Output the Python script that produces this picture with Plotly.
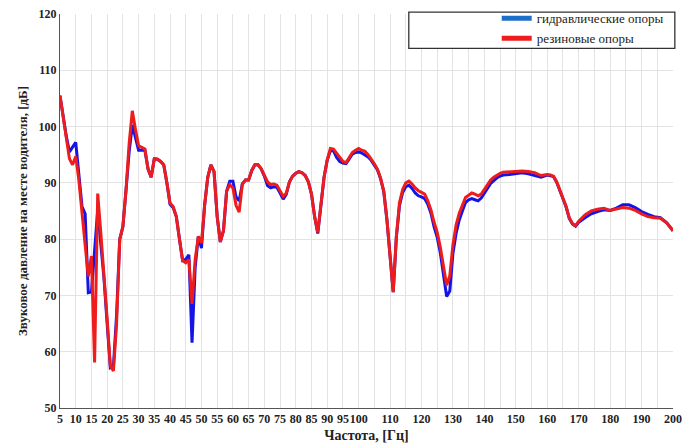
import plotly.graph_objects as go

freq = [5, 6, 7, 8, 9, 10, 11, 12, 13, 14, 15, 16, 17, 18, 19, 20, 21, 22, 23, 24,
        25, 26, 27, 28, 29, 30, 31, 32, 33, 34, 35, 36, 37, 38, 39, 40, 41, 42, 43, 44,
        45, 46, 47, 48, 49, 50, 51, 52, 53, 54, 55, 56, 57, 58, 59, 60, 61, 62, 63, 64,
        65, 66, 67, 68, 69, 70, 71, 72, 73, 74, 75, 76, 77, 78, 79, 80, 81, 82, 83, 84,
        85, 86, 87, 88, 89, 90, 91, 92, 93, 94, 95, 96, 97, 98, 99, 100, 101, 102, 103, 104,
        105, 106, 107, 108, 109, 110, 111, 112, 113, 114, 115, 116, 117, 118, 119, 120, 121, 122, 123, 124,
        125, 126, 127, 128, 129, 130, 131, 132, 133, 134, 135, 136, 137, 138, 139, 140, 141, 142, 143, 144,
        145, 146, 148, 150, 152, 154, 156, 158, 160, 161, 162, 163, 164, 165, 166, 167, 168, 169, 170, 172,
        174, 176, 178, 180, 182, 184, 186, 188, 190, 192, 194, 196, 198, 200]

hydraulic = [105.5, 101.6, 98.3, 95.5, 96.3, 97.2, 91.5, 85.8, 84.5, 70.5, 70.6, 78.0, 85.2, 79.0, 73.0, 65.0, 57.2, 57.5, 66.5, 80.0,
             82.2, 88.7, 95.5, 100.3, 97.8, 95.8, 95.8, 95.8, 92.5, 91.0, 94.3, 94.2, 93.8, 93.2, 90.0, 86.2, 85.6, 84.0, 80.0, 76.2,
             76.4, 77.2, 61.6, 75.0, 80.5, 78.4, 86.0, 91.0, 93.2, 92.0, 84.0, 79.5, 81.5, 88.5, 90.3, 90.3, 87.5, 86.8, 89.8, 90.5,
             90.5, 92.2, 93.2, 93.2, 92.5, 91.2, 89.5, 89.1, 89.3, 89.2, 88.2, 87.1, 88.0, 90.2, 91.2, 91.7, 92.0, 91.8, 91.3, 90.2,
             88.0, 84.0, 81.0, 86.0, 91.0, 94.0, 95.7, 95.7, 94.5, 93.8, 93.5, 93.4, 94.3, 95.1, 95.4, 95.5, 95.3, 95.0, 94.6, 94.0,
             93.2, 92.3, 90.7, 88.4, 83.4, 77.0, 70.6, 80.3, 86.0, 88.3, 89.3, 89.6, 89.0, 88.2, 87.7, 87.5, 87.2, 86.2, 84.6, 82.2,
             80.3, 77.5, 73.5, 69.8, 70.8, 77.5, 81.0, 83.4, 85.0, 86.5, 87.0, 87.2, 87.0, 86.8, 87.3, 88.2, 89.0, 89.9, 90.4, 90.9,
             91.2, 91.4, 91.5, 91.7, 91.8, 91.6, 91.3, 91.0, 91.4, 91.3, 91.1, 90.1, 88.7, 87.4, 85.7, 83.7, 82.7, 82.3, 83.0, 83.8,
             84.5, 84.9, 85.2, 85.1, 85.5, 86.1, 86.1, 85.6, 84.9, 84.4, 84.0, 83.8, 82.9, 81.5]

rubber = [105.5, 101.6, 98.0, 94.3, 93.2, 94.7, 90.5, 84.0, 79.0, 73.4, 77.0, 58.1, 88.1, 81.0, 74.0, 65.8, 57.5, 56.6, 65.0, 80.0,
          82.2, 88.7, 97.0, 102.8, 99.5, 96.6, 96.3, 96.0, 92.5, 91.0, 94.3, 94.2, 93.8, 93.2, 90.0, 86.4, 85.8, 84.0, 80.0, 76.2,
          75.8, 76.4, 68.5, 76.4, 80.5, 79.3, 86.0, 91.0, 93.2, 92.0, 84.0, 79.5, 81.5, 88.5, 89.7, 89.1, 86.0, 84.8, 89.8, 90.5,
          90.5, 92.2, 93.2, 93.2, 92.5, 91.2, 90.2, 89.7, 89.8, 89.6, 88.6, 87.6, 88.2, 90.2, 91.2, 91.7, 92.0, 91.8, 91.3, 90.2,
          88.0, 84.0, 81.2, 86.0, 91.0, 94.1, 96.1, 96.0, 95.2, 94.4, 93.8, 93.6, 94.6, 95.4, 95.8, 96.1, 95.8, 95.6, 95.0, 94.3,
          93.4, 92.4, 90.8, 88.5, 83.5, 77.0, 70.6, 80.5, 86.5, 88.8, 90.0, 90.3, 89.8, 89.1, 88.6, 88.3, 88.0, 86.8, 85.2, 83.0,
          81.2, 78.5, 75.5, 71.8, 73.5, 79.0, 82.5, 84.6, 86.0, 87.4, 87.8, 88.2, 88.0, 87.7, 88.0, 88.8, 89.6, 90.5, 91.0, 91.4,
          91.7, 91.9, 92.0, 92.1, 92.1, 92.0, 91.8, 91.3, 91.5, 91.4, 91.2, 90.2, 88.8, 87.5, 85.8, 83.8, 82.8, 82.4, 83.2, 84.3,
          85.0, 85.3, 85.5, 85.1, 85.4, 85.6, 85.5, 85.1, 84.5, 84.0, 83.8, 83.7, 82.9, 81.5]

x_tick_vals = list(range(5, 201, 5))
x_tick_text = [str(v) if (v <= 100 or v % 10 == 0) else "" for v in x_tick_vals]
y_tick_vals = [50, 60, 70, 80, 90, 100, 110, 120]

series_names = ["гидравлические опоры", "резиновые опоры"]
line_colors = ["#1414E6", "#EE1C1C"]
legend_colors = ["#1E6FC8", "#EE1C1C"]

serif = "Liberation Serif, DejaVu Serif, serif"

fig = go.Figure()
fig.add_trace(go.Scatter(x=freq, y=hydraulic, mode="lines", name=series_names[0],
                         line=dict(color=line_colors[0], width=3), showlegend=False))
fig.add_trace(go.Scatter(x=freq, y=rubber, mode="lines", name=series_names[1],
                         line=dict(color=line_colors[1], width=3), showlegend=False))
# legend entries
for nm, c in zip(series_names, legend_colors):
    fig.add_trace(go.Scatter(x=[None], y=[None], mode="lines", name=nm,
                             line=dict(color=c, width=4)))

# page body adds 8px offset; figure sized so the plot area lands where the reference has it
fig.update_layout(
    width=686, height=436,
    margin=dict(l=52, r=21, t=6, b=36, autoexpand=False),
    paper_bgcolor="white", plot_bgcolor="white",
    font=dict(family=serif, color="#222222"),
    showlegend=True,
    legend=dict(x=0.993, y=1.027, xanchor="right", yanchor="top",
                bgcolor="rgba(0,0,0,0)", borderwidth=0,
                font=dict(family=serif, size=13, color="#222222"),
                tracegroupgap=0, itemwidth=30,
                itemsizing="constant"),
    shapes=[dict(type="rect", xref="paper", yref="paper",
                 x0=0.569, x1=1.003, y0=0.913, y1=1.005,
                 line=dict(color="#333333", width=1.3), fillcolor="white", layer="above")],
)
fig.update_xaxes(range=[5, 200], tickmode="array", tickvals=x_tick_vals, ticktext=x_tick_text,
                 showgrid=True, gridcolor="#e3e3e3", gridwidth=1,
                 showline=True, linecolor="#555555", linewidth=1, ticks="",
                 tickfont=dict(family=serif, size=12, color="#222222", weight="bold"),
                 tickangle=0, automargin=False, ticklabeloverflow="allow",
                 title=dict(text="<b>Частота, [Гц]</b>", font=dict(family=serif, size=14, color="#222222"),
                            standoff=4),
                 zeroline=False)
fig.update_yaxes(range=[50, 120], tickmode="array", tickvals=y_tick_vals,
                 showgrid=True, gridcolor="#e3e3e3", gridwidth=1,
                 showline=True, linecolor="#555555", linewidth=1, ticks="",
                 tickfont=dict(family=serif, size=12, color="#222222", weight="bold"),
                 automargin=False, ticklabeloverflow="allow",
                 title=dict(text="<b>Звуковое давление на месте водителя, [дБ]</b>",
                            font=dict(family=serif, size=13, color="#222222"), standoff=8),
                 zeroline=False)

fig.write_html("out.html")
